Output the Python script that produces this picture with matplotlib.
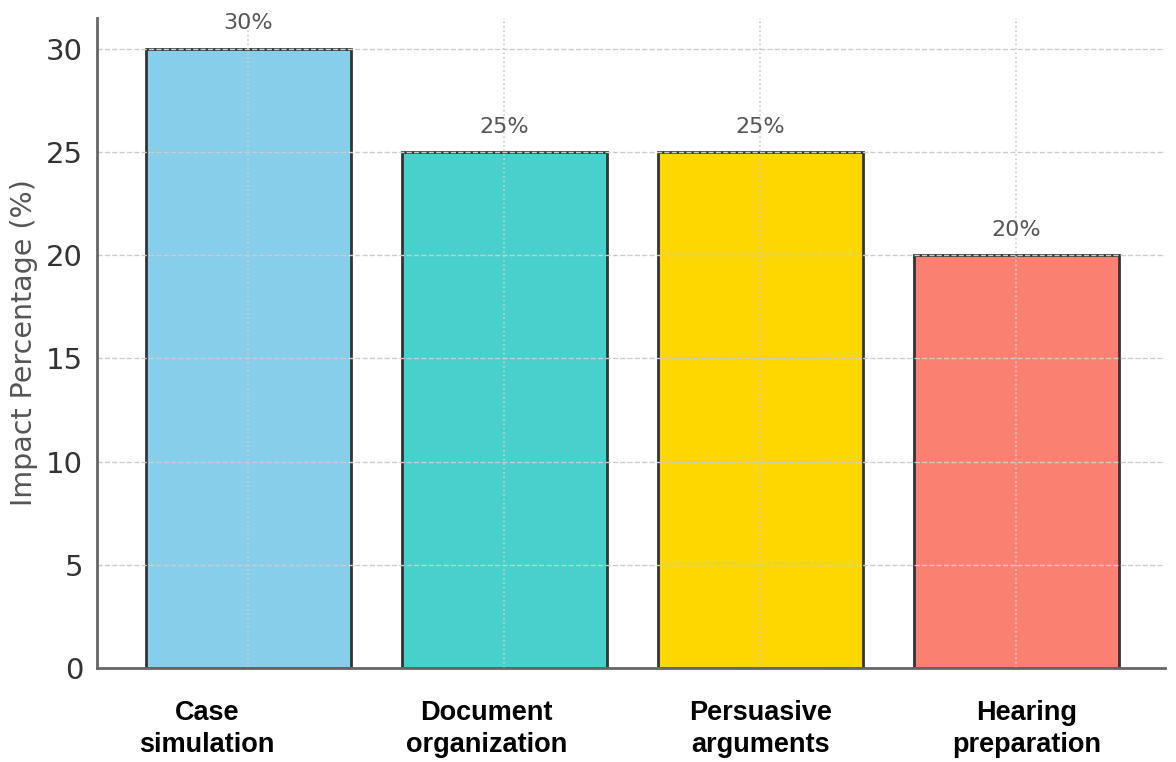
import matplotlib
matplotlib.use("Agg")
import matplotlib.pyplot as plt

categories = ["Case\nsimulation", "Document\norganization", "Persuasive\narguments", "Hearing\npreparation"]
impact = [30, 25, 25, 20]
bar_colors = ["#87CEEB", "#48D1CC", "#FFD700", "#FA8072"]
value_labels = ["30%", "25%", "25%", "20%"]
yticks = [0, 5, 10, 15, 20, 25, 30]

# horizontal nudges of the bold labels (in bar units)
label_shift = [-0.16, -0.07, 0.0, 0.04]


def main():
    fig = plt.figure(figsize=(11.76, 7.62), dpi=100)
    ax = fig.add_axes([0.0825, 0.1234, 0.908, 0.853])

    x = list(range(len(impact)))
    ax.bar(x, impact, width=0.8, color=bar_colors, edgecolor="#333333", linewidth=2)

    for xi, v, lab in zip(x, impact, value_labels):
        ax.text(xi, v + 0.75, lab, ha="center", va="bottom", fontsize=16, color="#555555")

    ax.set_xlim(-0.59, 3.58)
    ax.set_ylim(0, 31.5)
    ax.set_yticks(yticks)
    ax.set_xticks(x)
    ax.set_xticklabels([""] * len(x))

    ax.grid(axis="y", linestyle="--", color="#cccccc", linewidth=1)
    ax.grid(axis="x", linestyle=":", color="#cccccc", linewidth=1.2)

    ax.spines["top"].set_visible(False)
    ax.spines["right"].set_visible(False)
    ax.spines["left"].set_color("#666666")
    ax.spines["bottom"].set_color("#666666")
    ax.spines["left"].set_linewidth(2)
    ax.spines["bottom"].set_linewidth(2)

    ax.tick_params(axis="y", length=0, pad=10, labelsize=21, labelcolor="#333333")
    ax.tick_params(axis="x", length=0)
    ax.set_ylabel("Impact Percentage (%)", fontsize=20.5, color="#555555", labelpad=6)

    for xi, name, dx in zip(x, categories, label_shift):
        ax.text(xi + dx, -1.55, name, ha="center", va="top", fontsize=19.5,
                fontweight="bold", family="Liberation Sans", color="black",
                linespacing=1.32)

    fig.savefig("out.png", dpi=100)


if __name__ == "__main__":
    main()
